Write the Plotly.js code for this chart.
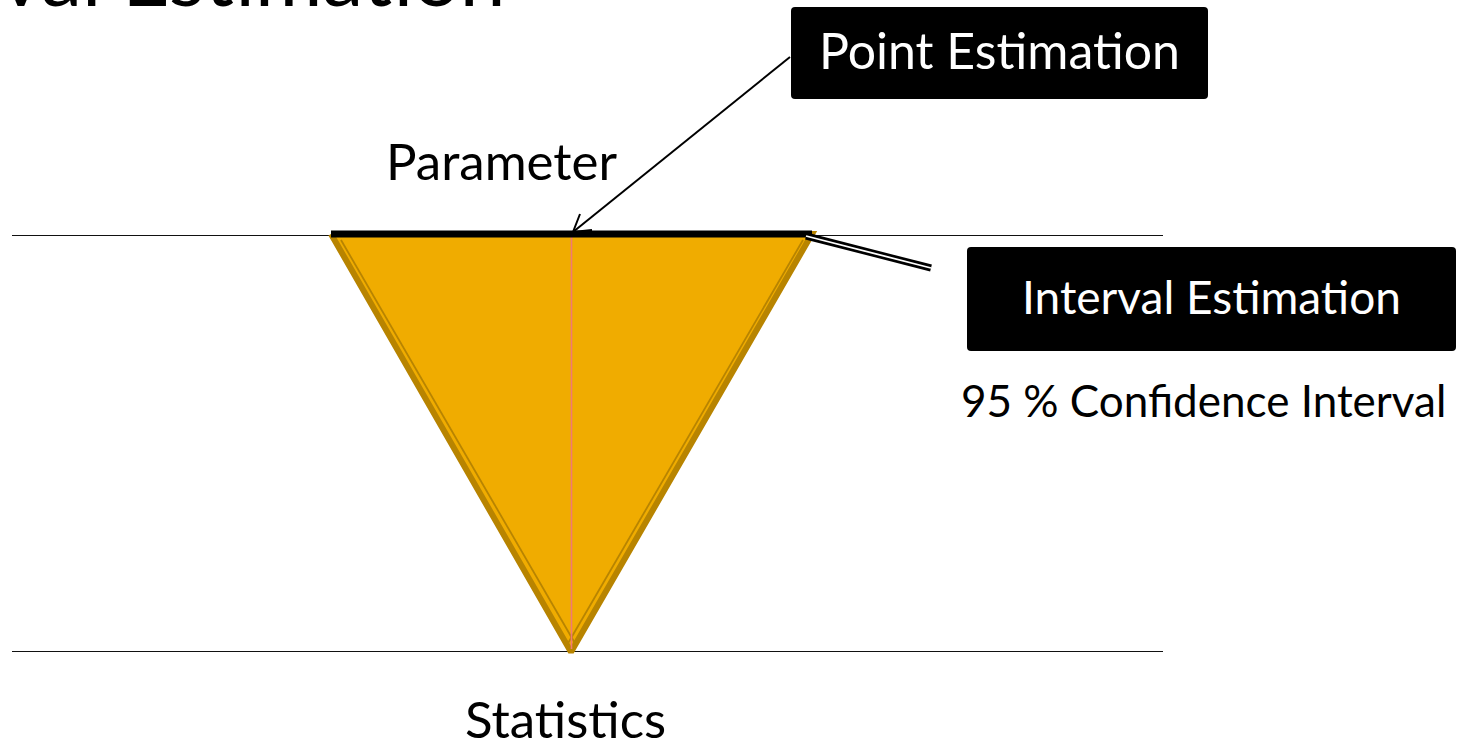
<!DOCTYPE html>
<html><head><meta charset="utf-8">
<script src="https://cdn.plot.ly/plotly-3.0.1.min.js"></script>
<style>html,body{margin:0;padding:0;background:#fff;overflow:hidden}</style>
</head><body><div id="c" style="width:1468px;height:742px"></div>
<script>
// Diagram geometry (pixel space of the figure)
const baselineX = [12, 1163];
const paramY = 235.5;
const statY = 651.5;
const triX = [331, 812, 571, 331];
const triY = [234, 234, 652, 234];
const innerLeftX = [341, 576];
const innerLeftY = [240, 645];
const innerRightX = [803, 567];
const innerRightY = [240, 645];
const centerX = [571.5, 571.5];
const centerY = [237, 649];
const intervalX = [331, 812];
const intervalY = [234, 234];
const connX = [806, 931];
const connY = [236, 268];
const arrowX = [790, 573];
const arrowY = [57, 232];
const headX = [580, 573, 592];
const headY = [214, 232, 230];
const labels = ["Parameter", "Statistics", "95 % Confidence Interval"];
const labelX = [501, 565, 1203];
const labelY = [160, 718, 400];
const labelSizes = [51, 51, 44];
const boxTexts = ["Point Estimation", "Interval Estimation"];
const boxX0 = [791, 967];
const boxX1 = [1208, 1456];
const boxY0 = [7, 247];
const boxY1 = [99, 351];
const boxTextSizes = [50, 46];
const titleText = "Interval Estimation";

const FONT = "Lato, 'Open Sans', sans-serif";
const traces = [
  {x: baselineX, y: [paramY, paramY], mode: 'lines', line: {color: '#111', width: 1}},
  {x: baselineX, y: [statY, statY], mode: 'lines', line: {color: '#111', width: 1}},
  {x: triX, y: triY, mode: 'lines', fill: 'toself', fillcolor: '#F0AC00', line: {color: '#B88400', width: 6}},
  {x: innerLeftX, y: innerLeftY, mode: 'lines', line: {color: '#B88400', width: 1.8}},
  {x: innerRightX, y: innerRightY, mode: 'lines', line: {color: '#B88400', width: 1.8}},
  {x: centerX, y: centerY, mode: 'lines', line: {color: '#F07A74', width: 1.6}},
  {x: intervalX, y: intervalY, mode: 'lines', line: {color: '#000', width: 7}},
  {x: connX, y: connY, mode: 'lines', line: {color: '#000', width: 7}},
  {x: connX, y: connY, mode: 'lines', line: {color: '#fff', width: 1.8}},
  {x: arrowX, y: arrowY, mode: 'lines', line: {color: '#000', width: 2}},
  {x: headX, y: headY, mode: 'lines', line: {color: '#000', width: 2}}
];
traces.forEach(t => { t.type = 'scatter'; t.hoverinfo = 'skip'; t.showlegend = false; });

const shapes = boxTexts.map((t, i) => {
  const x0 = boxX0[i], x1 = boxX1[i], y0 = boxY0[i], y1 = boxY1[i], r = 4;
  return {type: 'path', xref: 'x', yref: 'y',
    path: `M${x0+r},${y0} L${x1-r},${y0} Q${x1},${y0} ${x1},${y0+r} L${x1},${y1-r} Q${x1},${y1} ${x1-r},${y1} L${x0+r},${y1} Q${x0},${y1} ${x0},${y1-r} L${x0},${y0+r} Q${x0},${y0} ${x0+r},${y0} Z`,
    fillcolor: '#000', line: {width: 0}, layer: 'below'};
});

const annotations = [];
labels.forEach((t, i) => annotations.push({x: labelX[i], y: labelY[i], xref: 'x', yref: 'y', text: t, showarrow: false, font: {family: FONT, size: labelSizes[i], color: '#000'}}));
boxTexts.forEach((t, i) => annotations.push({x: (boxX0[i] + boxX1[i]) / 2, y: (boxY0[i] + boxY1[i]) / 2 - 3, xref: 'x', yref: 'y', text: t, showarrow: false, font: {family: FONT, size: boxTextSizes[i], color: '#fff'}}));
annotations.push({x: 508, y: 25, xref: 'x', yref: 'y', xanchor: 'right', yanchor: 'bottom', text: titleText, showarrow: false, font: {family: FONT, size: 82, color: '#000'}});

const layout = {
  width: 1468, height: 742, margin: {l: 0, r: 0, t: 0, b: 0},
  paper_bgcolor: '#fff', plot_bgcolor: '#fff',
  xaxis: {range: [0, 1468], visible: false, fixedrange: true},
  yaxis: {range: [742, 0], visible: false, fixedrange: true},
  shapes: shapes, annotations: annotations, showlegend: false
};
Plotly.newPlot('c', traces, layout, {displayModeBar: false, staticPlot: true});
</script></body></html>
